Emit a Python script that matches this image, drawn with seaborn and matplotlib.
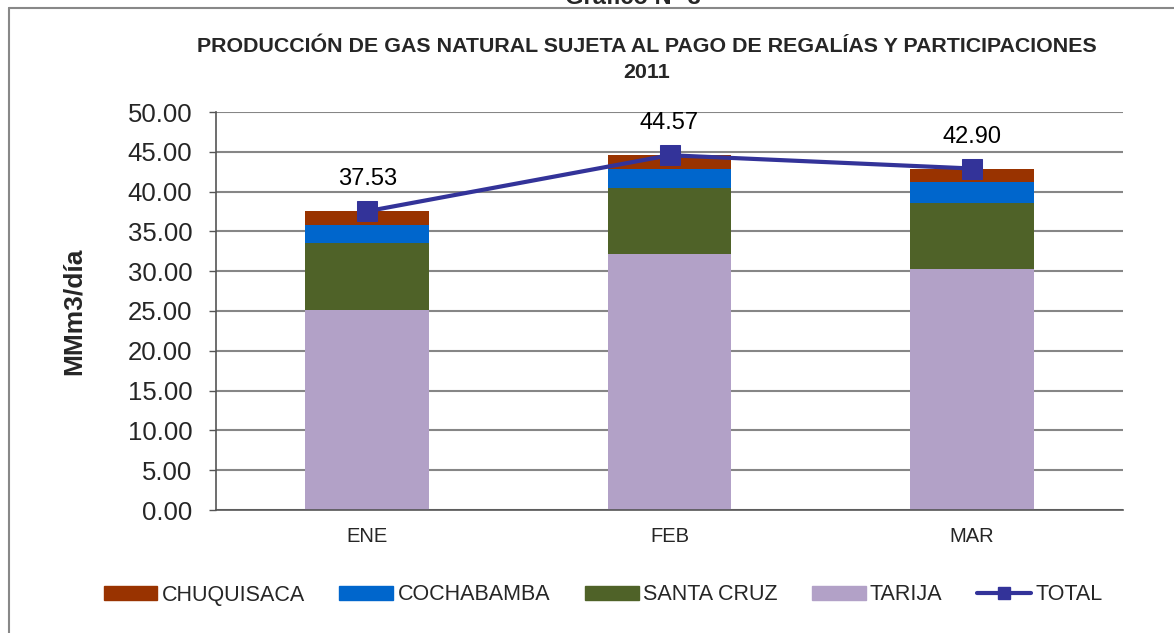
import matplotlib
matplotlib.use("Agg")
import matplotlib.pyplot as plt
import matplotlib.lines as mlines
import matplotlib.patches as mpatches
import numpy as np
import pandas as pd
import seaborn as sns

months = ["ENE", "FEB", "MAR"]
tarija = [25.10, 32.20, 30.30]
santa_cruz = [8.50, 8.30, 8.30]
cochabamba = [2.20, 2.30, 2.60]
chuquisaca = [1.73, 1.77, 1.70]
total = [37.53, 44.57, 42.90]

series_names = ["CHUQUISACA", "COCHABAMBA", "SANTA CRUZ", "TARIJA"]
colors = {"CHUQUISACA": "#993300", "COCHABAMBA": "#0066CC",
          "SANTA CRUZ": "#4F6228", "TARIJA": "#B2A1C7"}
line_color = "#333399"

sns.set_theme(style="white")
plt.rcParams["font.family"] = ["Liberation Sans", "DejaVu Sans"]

fig = plt.figure(figsize=(11.74, 6.33), dpi=100)
ax = fig.add_axes([216/1174, 1-510/633, (1123-216)/1174, (510-112)/633])

df = pd.DataFrame({"mes": months, "TARIJA": tarija, "SANTA CRUZ": santa_cruz,
                   "COCHABAMBA": cochabamba, "CHUQUISACA": chuquisaca})
stack_order = ["TARIJA", "SANTA CRUZ", "COCHABAMBA", "CHUQUISACA"]
bottom = np.zeros(len(months))
for name in stack_order:
    sns.barplot(data=df, x="mes", y=name, ax=ax, color=colors[name],
                width=0.41, bottom=bottom, saturation=1, edgecolor="none",
                linewidth=0, zorder=2)
    bottom = bottom + df[name].values

sns.lineplot(x=np.arange(len(months)), y=total, ax=ax, color=line_color,
             linewidth=3, marker="s", markersize=14, markeredgecolor=line_color,
             zorder=5)

for i, v in enumerate(total):
    ax.annotate(f"{v:.2f}", (i, v), xytext=(0, 15), textcoords="offset points",
                ha="center", va="bottom", fontsize=17, color="black")

ax.set_ylim(0, 50)
ax.set_xlim(-0.5, 2.5)
ax.set_yticks(np.arange(0, 50.01, 5))
ax.set_yticklabels([f"{t:.2f}" for t in np.arange(0, 50.01, 5)], fontsize=18.5)
ax.set_xticks(range(len(months)))
ax.set_xticklabels(months, fontsize=14.5)
ax.set_xticks([-0.5, 0.5, 1.5, 2.5], minor=True)
ax.tick_params(axis="x", which="major", length=0, pad=12)
ax.tick_params(axis="x", which="minor", length=5, width=1, color="#555555", direction="out")
ax.tick_params(axis="y", length=5, width=1, color="#555555", direction="out", pad=12, left=True)
ax.yaxis.grid(True, color="#868686", linewidth=1.5, zorder=0)
ax.set_axisbelow(True)
for s in ["top", "right"]:
    ax.spines[s].set_visible(False)
for s in ["left", "bottom"]:
    ax.spines[s].set_color("#555555")
    ax.spines[s].set_linewidth(1.2)
ax.set_xlabel("")
ax.set_ylabel("MMm3/día", fontsize=19, fontweight="bold", labelpad=30)

fig.text(647/1174, 1-47/633, "PRODUCCIÓN DE GAS NATURAL SUJETA AL PAGO DE REGALÍAS Y PARTICIPACIONES",
         ha="center", va="center", fontsize=15.4, fontweight="bold")
fig.text(647/1174, 1-72/633, "2011", ha="center", va="center", fontsize=15.4, fontweight="bold")
fig.text(633/1174, 1-4/633, "Gráfico N° 3", ha="center", va="baseline", fontsize=17, fontweight="bold")

# frame lines
fig.add_artist(mlines.Line2D([9/1174, 1], [1-8/633, 1-8/633], color="#888888", linewidth=1.5))
fig.add_artist(mlines.Line2D([9/1174, 9/1174], [0, 1-8/633], color="#888888", linewidth=1.5))

handles = [mpatches.Patch(color=colors[n], label=n) for n in series_names]
handles.append(mlines.Line2D([], [], color=line_color, linewidth=3, marker="s",
                             markersize=9, label="TOTAL"))
fig.legend(handles=handles, loc="center", bbox_to_anchor=(603/1174, 1-595/633), ncol=5,
           frameon=False, fontsize=15.5, handlelength=2.5, handleheight=0.6,
           handletextpad=0.2, columnspacing=1.6)

fig.savefig("out.png", dpi=100)
